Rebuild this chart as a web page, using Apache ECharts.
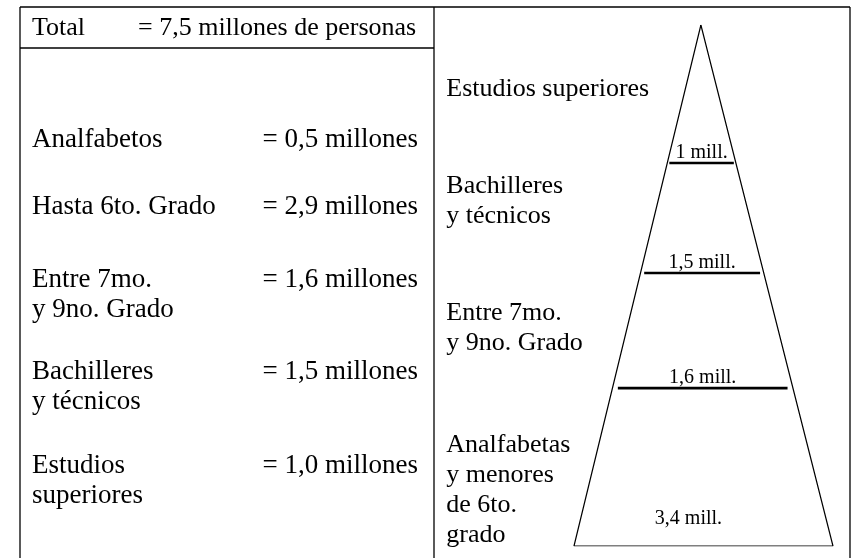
<!DOCTYPE html>
<html><head><meta charset="utf-8">
<script src="https://cdn.jsdelivr.net/npm/echarts@6/dist/echarts.min.js"></script>
<style>html,body{margin:0;padding:0;background:#fff}#c{width:851px;height:558px}</style>
</head><body><div id="c"></div>
<script>
// ---- data ----
const totalLabel = 'Total';
const totalValue = 7.5;
const tableCategories = ['Analfabetos', 'Hasta 6to. Grado', 'Entre 7mo.\ny 9no. Grado', 'Bachilleres\ny técnicos', 'Estudios\nsuperiores'];
const tableValues = [0.5, 2.9, 1.6, 1.5, 1.0];
const pyramidCategories = ['Estudios superiores', 'Bachilleres\ny técnicos', 'Entre 7mo.\ny 9no. Grado', 'Analfabetas\ny menores\nde 6to.\ngrado'];
const pyramidValues = [1, 1.5, 1.6, 3.4];

// ---- layout (schematic, not data) ----
const FONT = "'Liberation Serif','Times New Roman',serif";
const HEAD = 26, BODY = 27, BIG = 26, SMALL = 20, LH = 30;
const tierBottoms = [0.265, 0.476, 0.697, 1];   // fraction of pyramid height from apex
const nameCenters = [0.123, 0.339, 0.582, 0.892];
const apexX = -0.02;
const rowCenters = [140, 207, 280, 372, 466];

const fmt1 = v => v.toFixed(1).replace('.', ',');
const fmtMill = v => (Number.isInteger(v) ? String(v) : fmt1(v)) + ' mill.';

const chart = echarts.init(document.getElementById('c'), null, {renderer: 'canvas'});

const center = t => apexX * (1 - t);
const series = [];
// triangle outline
series.push({
  type: 'line', data: [[apexX, 0], [-1, 1], [1, 1], [apexX, 0]],
  symbol: 'none', lineStyle: {color: '#000', width: 1.2}, silent: true, animation: false
});
// separators between tiers
tierBottoms.slice(0, -1).forEach(t => {
  series.push({
    type: 'line', data: [[center(t) - 0.94 * t, t], [center(t) + 0.94 * t, t]],
    symbol: 'none', lineStyle: {color: '#000', width: 2.6}, silent: true, animation: false
  });
});
const labelBase = {show: true, color: '#000', opacity: 1, fontFamily: FONT, textBorderWidth: 0};
// value labels
series.push({
  type: 'scatter', symbolSize: 1, itemStyle: {color: '#fff', opacity: 1}, silent: true, animation: false,
  data: pyramidValues.map((v, i) => ({
    value: [center(tierBottoms[i]), tierBottoms[i]],
    label: i === pyramidValues.length - 1 ? {offset: [-15, -17]} : {}
  })),
  label: Object.assign({}, labelBase, {
    position: 'top', distance: 0, fontSize: SMALL,
    formatter: p => fmtMill(pyramidValues[p.dataIndex])
  })
});
// tier names
series.push({
  type: 'scatter', symbolSize: 1, itemStyle: {color: '#fff', opacity: 1}, silent: true, animation: false,
  data: pyramidCategories.map((n, i) => [-1.99, nameCenters[i]]),
  label: Object.assign({}, labelBase, {
    position: 'right', distance: 0, align: 'left', fontSize: BIG, lineHeight: LH,
    formatter: p => pyramidCategories[p.dataIndex]
  })
});

// table (left panel) as text
const graphic = [];
const line = (x1, y1, x2, y2) => graphic.push({type: 'line', shape: {x1, y1, x2, y2}, style: {stroke: '#000', lineWidth: 1.3}, silent: true});
line(20, 7, 850, 7);
line(20, 7, 20, 560);
line(20, 48, 434, 48);
line(434, 7, 434, 560);
line(850, 7, 850, 560);
const txt = (text, x, y, size, align) => graphic.push({
  type: 'text', silent: true,
  style: {text, x, y, fill: '#000', font: size + 'px ' + FONT, lineHeight: LH, align: align || 'left', verticalAlign: 'top'}
});
txt(totalLabel, 32, 28 - LH / 2, HEAD);
txt('= ' + fmt1(totalValue) + ' millones de personas', 138, 28 - LH / 2, HEAD);
tableCategories.forEach((c, i) => {
  txt(c, 32, rowCenters[i] - LH / 2, BODY);
  txt('= ' + fmt1(tableValues[i]) + ' millones', 418, rowCenters[i] - LH / 2, BODY, 'right');
});

chart.setOption({
  animation: false,
  backgroundColor: '#fff',
  grid: {left: 434, right: 3, top: 25, bottom: 12},
  xAxis: {type: 'value', min: -2.081, max: 1.116, show: false},
  yAxis: {type: 'value', min: 0, max: 1, inverse: true, show: false},
  series,
  graphic
});
</script>
</body></html>
